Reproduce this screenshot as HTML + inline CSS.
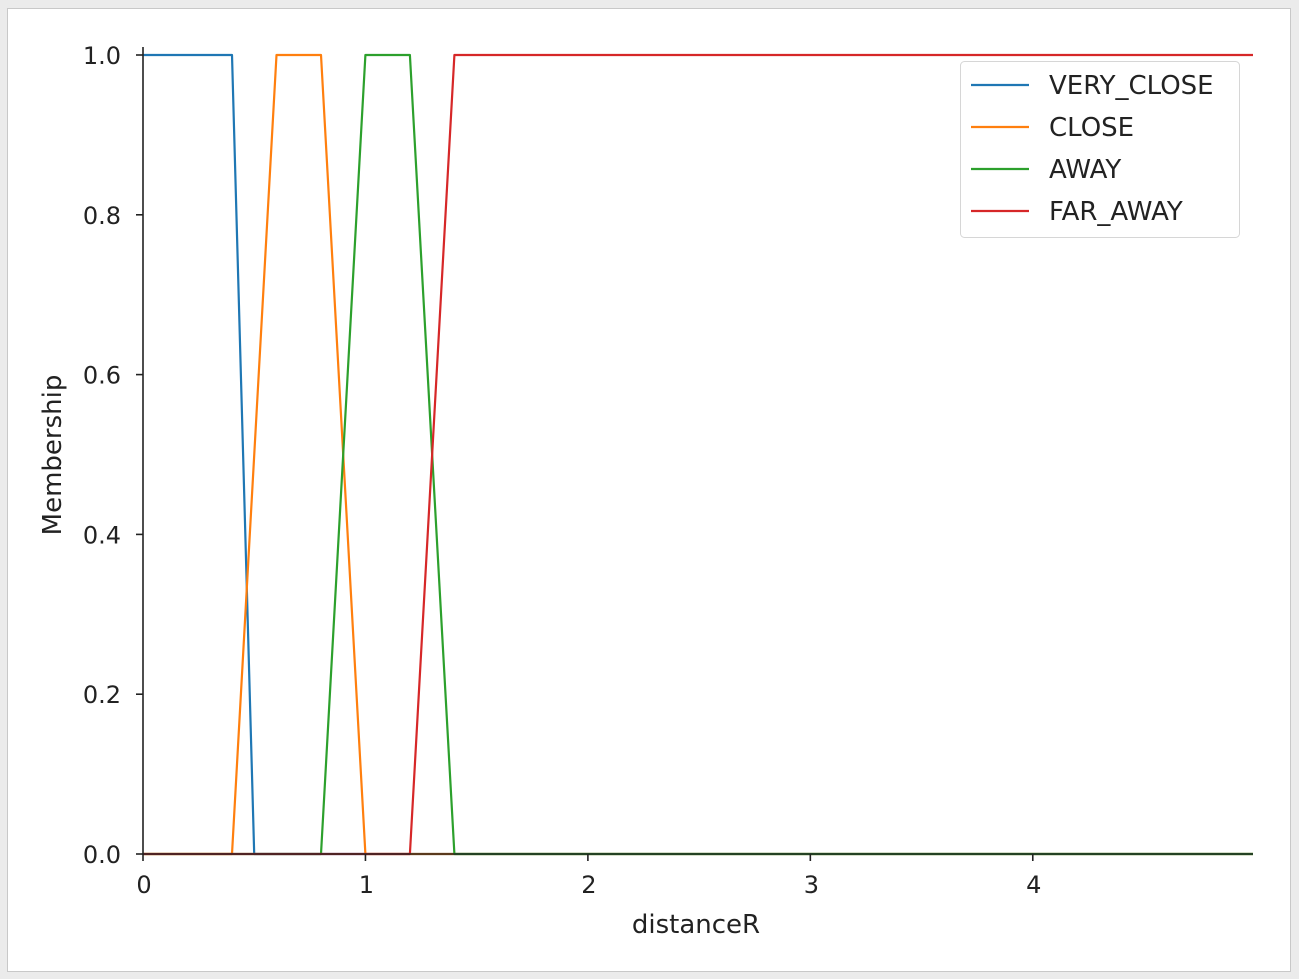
<!DOCTYPE html>
<html><head><meta charset="utf-8"><style>
body{margin:0;background:#ebebeb;width:1299px;height:979px;overflow:hidden}
svg{display:block}
text{font-family:"DejaVu Sans","Liberation Sans",sans-serif;fill:#222}
</style></head><body>
<svg id="chart" width="1299" height="979">
<rect x="7.5" y="8.5" width="1283" height="963" fill="#fff" stroke="#c8c8c8"/>
<g id="marks"></g>
<g id="axes"></g>
<g id="legend"></g>
</svg>
<script>
const seriesNames=["VERY_CLOSE","CLOSE","AWAY","FAR_AWAY"];
const colors=["#1f77b4","#ff7f0e","#2ca02c","#d62728"];
const xVeryClose=[0,0.4,0.5,4.99];
const yVeryClose=[1,1,0,0];
const xClose=[0,0.4,0.6,0.8,1.0,4.99];
const yClose=[0,0,1,1,0,0];
const xAway=[0,0.8,1.0,1.2,1.4,4.99];
const yAway=[0,0,1,1,0,0];
const xFar=[0,1.2,1.4,4.99];
const yFar=[0,0,1,1];
const xTicks=[0,1,2,3,4];
const yTicks=[0,0.2,0.4,0.6,0.8,1.0];
const xMax=4.99;
const NS="http://www.w3.org/2000/svg";
const X0=143,X1=1253,Y0=854,Y1=55;
const sx=v=>X0+v*(X1-X0)/xMax;
const sy=v=>Y0-v*(Y0-Y1);
function mk(t,a,p){const e=document.createElementNS(NS,t);for(const k in a)e.setAttribute(k,a[k]);p.appendChild(e);return e;}
const marks=document.getElementById('marks');
const xs=[xVeryClose,xClose,xAway,xFar],ys=[yVeryClose,yClose,yAway,yFar];
const slugs=["very-close","close","away","far-away"];
for(let i=0;i<4;i++){
  const d=xs[i].map((x,j)=>(j?'L':'M')+sx(x).toFixed(1)+','+sy(ys[i][j]).toFixed(1)).join(' ');
  const p=mk('path',{d:d,fill:'none',stroke:colors[i],'stroke-width':2.2,'stroke-linejoin':'round'},marks);
  
  
}
const ax=document.getElementById('axes');
const l1=mk('line',{x1:X0,y1:Y0,x2:X1,y2:Y0,stroke:'#222','stroke-width':1.6},ax);


const l2=mk('line',{x1:X0,y1:Y0,x2:X0,y2:47,stroke:'#222','stroke-width':1.6},ax);


xTicks.forEach(v=>{
  mk('line',{x1:sx(v),y1:Y0,x2:sx(v),y2:Y0+7,stroke:'#222','stroke-width':1.6},ax);
  const t=mk('text',{x:sx(v)+1,y:Y0+39,'text-anchor':'middle','font-size':24},ax);
  t.textContent=v;
  
  
});
yTicks.forEach(v=>{
  mk('line',{x1:X0-7,y1:sy(v),x2:X0,y2:sy(v),stroke:'#222','stroke-width':1.6},ax);
  const t=mk('text',{x:X0-22,y:sy(v)+9,'text-anchor':'end','font-size':24},ax);
  t.textContent=v.toFixed(1);
  
  
});
const xt=mk('text',{x:696,y:933,'text-anchor':'middle','font-size':26},ax);
xt.textContent='distanceR';


const yt=mk('text',{x:0,y:0,'text-anchor':'middle','font-size':26,transform:'translate(61,455) rotate(-90)'},ax);
yt.textContent='Membership';


const lg=document.getElementById('legend');
const box=mk('rect',{x:960.5,y:61.5,width:279,height:176,rx:4,fill:'#fff','fill-opacity':0.85,stroke:'#d6d6d6'},lg);


seriesNames.forEach((n,i)=>{
  const y=85+i*42;
  const g=mk('g',{},lg);
  
  
  mk('line',{x1:971,y1:y,x2:1029,y2:y,stroke:colors[i],'stroke-width':2.2},g);
  const t=mk('text',{x:1049,y:y+9,'font-size':26},g);
  t.textContent=n;
});
</script>
</body></html>
